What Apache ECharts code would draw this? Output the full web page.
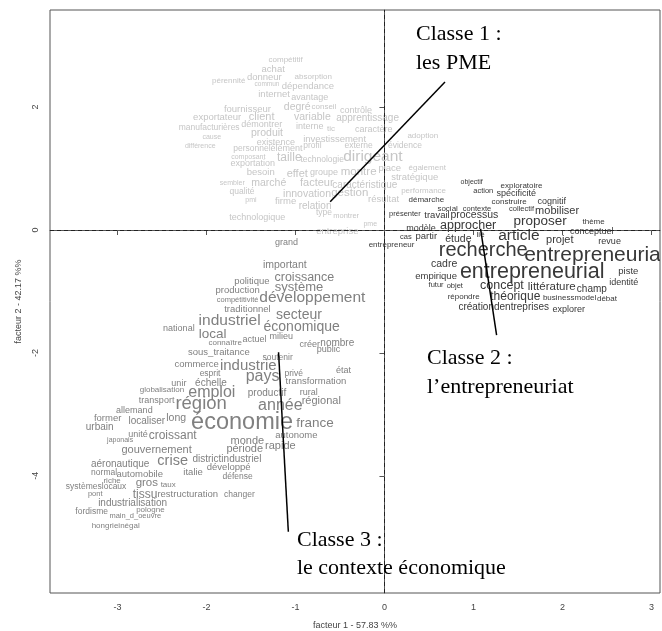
<!DOCTYPE html>
<html>
<head>
<meta charset="utf-8">
<title>AFC - trois classes</title>
<script src="https://cdn.jsdelivr.net/npm/echarts@6/dist/echarts.min.js"></script>
<style>
  html, body { margin: 0; padding: 0; background: #fff; }
  #chart { width: 662px; height: 631px; }
</style>
</head>
<body>
<div id="chart"></div>
<script>
// classe 1 : les PME
const words1 = ['compétitif','achat','pérennité','donneur','commun','absorption','dépendance','internet','avantage','fournisseur',
  'degré','conseil','exportateur','client','variable','contrôle','apprentissage','manufacturières','démontrer','cause',
  'produit','existence','interne','tic','caractère','investissement','adoption','différence','personnel','élément',
  'profil','externe','évidence','composant','exportation','taille','technologie','dirigeant','place','également',
  'besoin','effet','groupe','montre','stratégique','sembler','marché','facteur','caractéristique','qualité',
  'innovation','gestion','performance','pmi','firme','relation','résultat','type','montrer','technologique',
  'pme','entreprise']
const x1 = [-1.11,-1.25,-1.75,-1.35,-1.32,-0.80,-0.86,-1.24,-0.84,-1.54,
  -0.98,-0.68,-1.88,-1.38,-0.81,-0.32,-0.19,-1.97,-1.38,-1.94,
  -1.32,-1.22,-0.84,-0.60,-0.12,-0.56,0.43,-2.07,-1.49,-1.10,
  -0.81,-0.29,0.23,-1.53,-1.48,-1.07,-0.70,-0.13,0.06,0.48,
  -1.39,-0.98,-0.68,-0.29,0.34,-1.71,-1.30,-0.76,-0.22,-1.60,
  -0.87,-0.39,0.44,-1.50,-1.11,-0.78,-0.01,-0.68,-0.43,-1.43,
  -0.16,-0.53]
const y1 = [2.77,2.62,2.42,2.49,2.38,2.49,2.34,2.20,2.15,1.97,
  2.00,2.00,1.84,1.84,1.84,1.94,1.82,1.66,1.72,1.51,
  1.58,1.43,1.68,1.64,1.64,1.48,1.53,1.37,1.32,1.32,
  1.37,1.37,1.37,1.19,1.09,1.17,1.14,1.20,1.01,1.01,
  0.93,0.91,0.93,0.94,0.86,0.76,0.76,0.76,0.73,0.62,
  0.59,0.60,0.63,0.49,0.46,0.39,0.50,0.28,0.23,0.21,
  0.10,-0.03]
const cex1 = [0.80,0.95,0.80,0.95,0.65,0.80,0.95,0.95,0.90,0.95,
  1.05,0.80,0.95,1.10,1.05,0.90,1.00,0.85,0.90,0.70,
  1.05,0.90,0.90,0.80,0.90,0.95,0.80,0.70,0.85,0.90,
  0.85,0.85,0.85,0.70,0.90,1.20,0.85,1.55,0.95,0.80,
  0.95,1.10,0.90,1.15,0.95,0.70,1.05,1.10,1.00,0.85,
  1.05,1.15,0.80,0.70,0.95,1.00,0.95,0.85,0.75,0.90,
  0.70,0.95]

// classe 2 : l'entrepreneuriat
const words2 = ['démarche','objectif','exploratoire','action','spécificité','construire','cognitif','social','contexte','collectif',
  'mobiliser','présenter','travail','processus','proposer','thème','modèle','approcher','article','conceptuel',
  'lié','cas','partir','étude','projet','revue','entrepreneur','recherche','entrepreneuriat','cadre',
  'entrepreneurial','piste','empirique','futur','objet','concept','littérature','champ','identité','répondre',
  'théorique','businessmodel','débat','créationdentreprises','explorer']
const x2 = [0.47,0.98,1.54,1.11,1.48,1.40,1.88,0.71,1.04,1.54,
  1.94,0.23,0.59,1.01,1.75,2.35,0.41,0.94,1.51,2.33,
  1.08,0.24,0.47,0.83,1.97,2.53,0.08,1.11,2.37,0.67,
  1.66,2.74,0.58,0.58,0.79,1.32,1.88,2.33,2.69,0.89,
  1.47,2.08,2.50,1.34,2.07]
const y2 = [0.49,0.78,0.72,0.63,0.59,0.46,0.47,0.34,0.34,0.34,
  0.31,0.26,0.23,0.24,0.15,0.13,0.03,0.07,-0.10,-0.02,
  -0.07,-0.11,-0.11,-0.15,-0.16,-0.18,-0.24,-0.33,-0.41,-0.55,
  -0.68,-0.67,-0.76,-0.90,-0.91,-0.91,-0.93,-0.96,-0.86,-1.09,
  -1.09,-1.11,-1.12,-1.25,-1.30]
const cex2 = [0.80,0.70,0.80,0.75,0.90,0.80,0.90,0.80,0.75,0.75,
  1.10,0.75,0.95,1.05,1.35,0.80,0.90,1.25,1.55,0.90,
  0.80,0.75,0.95,1.05,1.10,0.90,0.80,2.00,2.10,1.05,
  2.15,0.95,0.95,0.75,0.75,1.25,1.15,1.00,0.90,0.80,
  1.20,0.80,0.80,1.00,0.90]

// classe 3 : le contexte économique
const words3 = ['grand','important','politique','croissance','production','système','compétitivité','développement','traditionnel','secteur',
  'national','industriel','économique','local','connaître','actuel','milieu','créer','nombre','public',
  'sous_traitance','soutenir','commerce','industrie','esprit','pays','privé','état','transformation','unir',
  'échelle','globalisation','emploi','productif','rural','transport','région','année','régional','allemand',
  'former','localiser','long','économie','france','urbain','unité','croissant','autonome','japonais',
  'monde','rapide','gouvernement','période','aéronautique','crise','districtindustriel','développé','normal','automobile',
  'italie','défense','riche','gros','taux','systèmeslocaux','pont','tissu','restructuration','changer',
  'industrialisation','pologne','fordisme','main_d_oeuvre','hongrieinégal']
const x3 = [-1.10,-1.12,-1.49,-0.90,-1.65,-0.96,-1.65,-0.81,-1.54,-0.96,
  -2.31,-1.74,-0.93,-1.93,-1.79,-1.46,-1.16,-0.84,-0.53,-0.63,
  -1.86,-1.20,-2.11,-1.53,-1.96,-1.37,-1.02,-0.46,-0.77,-2.31,
  -1.95,-2.50,-1.94,-1.32,-0.85,-2.56,-2.06,-1.17,-0.71,-2.81,
  -3.11,-2.67,-2.34,-1.60,-0.78,-3.20,-2.77,-2.38,-0.99,-2.97,
  -1.54,-1.17,-2.56,-1.57,-2.97,-2.38,-1.77,-1.75,-3.15,-2.75,
  -2.15,-1.65,-3.06,-2.67,-2.43,-3.24,-3.25,-2.69,-2.21,-1.63,
  -2.83,-2.63,-3.29,-2.80,-3.02]
const y3 = [-0.20,-0.57,-0.83,-0.78,-0.98,-0.93,-1.14,-1.11,-1.29,-1.38,
  -1.61,-1.48,-1.58,-1.69,-1.84,-1.79,-1.74,-1.87,-1.84,-1.94,
  -1.99,-2.07,-2.18,-2.21,-2.33,-2.38,-2.33,-2.28,-2.47,-2.49,
  -2.49,-2.60,-2.65,-2.65,-2.65,-2.77,-2.83,-2.85,-2.78,-2.93,
  -3.06,-3.12,-3.06,-3.14,-3.14,-3.21,-3.32,-3.35,-3.35,-3.42,
  -3.43,-3.52,-3.58,-3.56,-3.81,-3.76,-3.73,-3.86,-3.95,-3.97,
  -3.95,-4.02,-4.08,-4.12,-4.15,-4.18,-4.30,-4.30,-4.30,-4.31,
  -4.44,-4.56,-4.59,-4.65,-4.82]
const cex3 = [0.90,1.05,0.95,1.25,0.95,1.30,0.75,1.55,0.95,1.40,
  0.90,1.55,1.40,1.35,0.80,0.90,0.90,0.90,1.00,0.90,
  0.95,0.85,0.95,1.50,0.85,1.60,0.85,0.90,0.95,0.90,
  1.00,0.80,1.60,1.00,0.90,0.90,1.85,1.60,1.10,0.90,
  0.95,1.00,1.05,2.35,1.35,1.00,0.90,1.20,0.95,0.70,
  1.10,1.10,1.10,1.10,1.00,1.45,1.00,0.95,0.85,0.95,
  0.95,0.85,0.80,1.15,0.80,0.85,0.75,1.20,0.95,0.85,
  1.00,0.80,0.85,0.75,0.80]

// annotations des classes (coordonnées factorielles)
const classLabels = ['Classe 1 :', 'les PME', 'Classe 2 :', 'l\u2019entrepreneuriat', 'Classe 3 :', 'le contexte économique']
const labelX = [0.354, 0.354, 0.478, 0.478, -0.983, -0.983]
const labelY = [3.19, 2.71, -2.08, -2.56, -5.05, -5.51]
const leaderFrom = [[0.68, 2.41], [1.08, 0.02], [-1.19, -1.99]]
const leaderTo = [[-0.61, 0.46], [1.26, -1.71], [-1.08, -4.91]]

const xTicks = [-3, -2, -1, 0, 1, 2, 3]
const yTicks = [-4, -2, 0, 2]

const wordFont = '"Liberation Sans", Arial, Helvetica, sans-serif'
const axisColor = '#555'

function wordSeries (name, words, xs, ys, cex, color) {
  return {
    name: name,
    type: 'custom',
    coordinateSystem: 'cartesian2d',
    clip: true,
    silent: true,
    z: 3,
    encode: { x: 0, y: 1 },
    data: words.map((w, i) => [xs[i], ys[i], cex[i], i]),
    renderItem: function (params, api) {
      const p = api.coord([api.value(0), api.value(1)])
      return {
        type: 'text',
        x: p[0],
        y: p[1],
        style: {
          text: words[api.value(3)],
          fill: color,
          fontSize: api.value(2) * 10,
          fontFamily: wordFont,
          align: 'center',
          verticalAlign: 'middle'
        }
      }
    }
  }
}

const chart = echarts.init(document.getElementById('chart'))

const s3 = wordSeries('classe3', words3, x3, y3, cex3, '#808080')
s3.markLine = {
  silent: true,
  symbol: 'none',
  label: { show: false },
  lineStyle: { type: [4, 3], color: '#222', width: 1 },
  data: [{ xAxis: 0 }, { yAxis: 0 }]
}

chart.setOption({
  animation: false,
  backgroundColor: '#fff',
  grid: {
    left: 50, top: 10, right: 2, bottom: 38,
    containLabel: false,
    outerBoundsMode: 'none',
    show: true, borderColor: axisColor, borderWidth: 1
  },
  xAxis: {
    type: 'value',
    min: -3.758,
    max: 3.096,
    splitLine: { show: false },
    axisLine: { show: true, lineStyle: { color: axisColor } },
    axisTick: { show: true, length: 5, customValues: xTicks, lineStyle: { color: axisColor } },
    axisLabel: { customValues: xTicks, color: '#444', fontSize: 9, margin: 10, fontFamily: wordFont },
    name: 'facteur 1 - 57.83 %%',
    nameLocation: 'middle',
    nameGap: 28,
    nameTextStyle: { color: '#444', fontSize: 9, fontFamily: wordFont }
  },
  yAxis: {
    type: 'value',
    min: -5.907,
    max: 3.58,
    splitLine: { show: false },
    axisLine: { show: true, lineStyle: { color: axisColor } },
    axisTick: { show: true, length: 5, customValues: yTicks, lineStyle: { color: axisColor } },
    axisLabel: { customValues: yTicks, color: '#444', fontSize: 9, margin: 10, rotate: 90, fontFamily: wordFont },
    name: 'facteur 2 - 42.17 %%',
    nameLocation: 'middle',
    nameGap: 27,
    nameTextStyle: { color: '#444', fontSize: 9, fontFamily: wordFont }
  },
  series: [
    wordSeries('classe1', words1, x1, y1, cex1, '#c6c6c6'),
    wordSeries('classe2', words2, x2, y2, cex2, '#383838'),
    s3,
    {
      name: 'leaders',
      type: 'custom',
      coordinateSystem: 'cartesian2d',
      silent: true,
      z: 5,
      encode: { x: [0, 2], y: [1, 3] },
      data: leaderFrom.map((a, i) => [a[0], a[1], leaderTo[i][0], leaderTo[i][1]]),
      renderItem: function (params, api) {
        const a = api.coord([api.value(0), api.value(1)])
        const b = api.coord([api.value(2), api.value(3)])
        return {
          type: 'line',
          shape: { x1: a[0], y1: a[1], x2: b[0], y2: b[1] },
          style: { stroke: '#000', lineWidth: 1.5 }
        }
      }
    },
    {
      name: 'classes',
      type: 'custom',
      coordinateSystem: 'cartesian2d',
      silent: true,
      z: 5,
      encode: { x: 0, y: 1 },
      data: classLabels.map((t, i) => [labelX[i], labelY[i], i]),
      renderItem: function (params, api) {
        const p = api.coord([api.value(0), api.value(1)])
        return {
          type: 'text',
          x: p[0],
          y: p[1],
          style: {
            text: classLabels[api.value(2)],
            fill: '#000',
            fontSize: 22,
            fontFamily: '"Liberation Serif", "Times New Roman", serif',
            align: 'left',
            verticalAlign: 'middle'
          }
        }
      }
    }
  ]
})
</script>
</body>
</html>
